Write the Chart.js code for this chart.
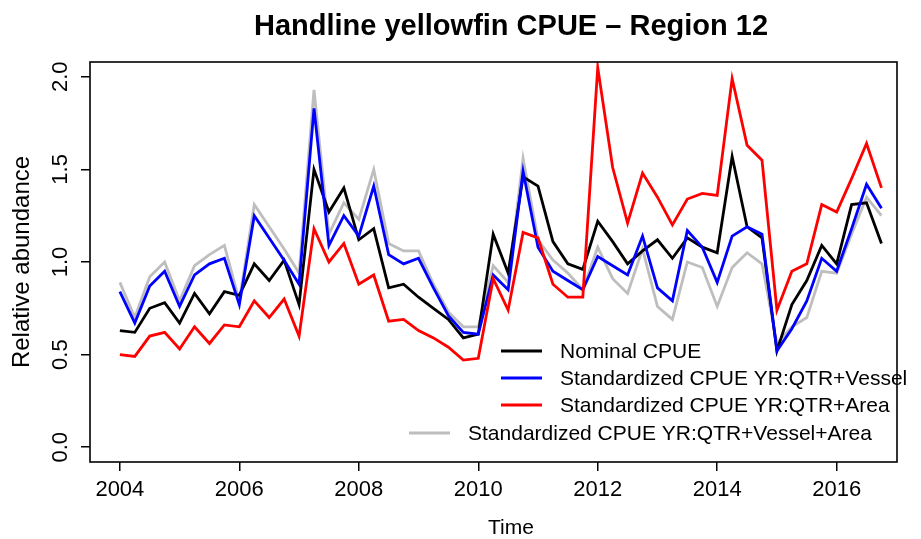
<!DOCTYPE html>
<html>
<head>
<meta charset="utf-8">
<script src="https://cdn.jsdelivr.net/npm/chart.js@4.4.1/dist/chart.umd.min.js"></script>
<style>
  html, body { margin: 0; padding: 0; background: #fff; }
  #wrap { width: 921px; height: 539px; position: relative; }
</style>
</head>
<body>
<div id="wrap"><canvas id="cpue" width="921" height="539"></canvas></div>
<script>
// Quarterly time steps (year + quarter fraction)
const times = [
  2004.00, 2004.25, 2004.50, 2004.75, 2005.00, 2005.25, 2005.50, 2005.75,
  2006.00, 2006.25, 2006.50, 2006.75, 2007.00, 2007.25, 2007.50, 2007.75,
  2008.00, 2008.25, 2008.50, 2008.75, 2009.00, 2009.25, 2009.50, 2009.75,
  2010.00, 2010.25, 2010.50, 2010.75, 2011.00, 2011.25, 2011.50, 2011.75,
  2012.00, 2012.25, 2012.50, 2012.75, 2013.00, 2013.25, 2013.50, 2013.75,
  2014.00, 2014.25, 2014.50, 2014.75, 2015.00, 2015.25, 2015.50, 2015.75,
  2016.00, 2016.25, 2016.50, 2016.75
];

// Relative abundance indices
const nominal = [
  0.63, 0.62, 0.75, 0.78, 0.67, 0.83, 0.72, 0.84,
  0.82, 0.99, 0.90, 1.01, 0.77, 1.50, 1.27, 1.40,
  1.12, 1.18, 0.86, 0.88, 0.81, 0.75, 0.69, 0.59,
  0.61, 1.15, 0.94, 1.46, 1.41, 1.11, 0.99, 0.96,
  1.22, 1.11, 0.99, 1.06, 1.12, 1.02, 1.13, 1.08,
  1.05, 1.57, 1.19, 1.13, 0.52, 0.77, 0.90, 1.09,
  0.99, 1.31, 1.32, 1.10
];
const stdVessel = [
  0.84, 0.67, 0.87, 0.95, 0.76, 0.93, 0.99, 1.02,
  0.77, 1.25, 1.13, 1.01, 0.88, 1.83, 1.09, 1.25,
  1.14, 1.41, 1.04, 0.99, 1.02, 0.86, 0.71, 0.62,
  0.61, 0.93, 0.85, 1.49, 1.08, 0.95, 0.90, 0.85,
  1.03, 0.98, 0.93, 1.14, 0.86, 0.79, 1.17, 1.08,
  0.89, 1.14, 1.19, 1.15, 0.52, 0.64, 0.79, 1.02,
  0.95, 1.18, 1.42, 1.29
];
const stdArea = [
  0.50, 0.49, 0.60, 0.62, 0.53, 0.65, 0.56, 0.66,
  0.65, 0.79, 0.70, 0.80, 0.60, 1.18, 1.00, 1.10,
  0.88, 0.93, 0.68, 0.69, 0.63, 0.59, 0.54, 0.47,
  0.48, 0.91, 0.74, 1.16, 1.13, 0.88, 0.81, 0.81,
  2.05, 1.51, 1.21, 1.48, 1.35, 1.20, 1.34, 1.37,
  1.36, 1.99, 1.63, 1.55, 0.74, 0.95, 0.99, 1.31,
  1.27, 1.45, 1.64, 1.40
];
const stdVesselArea = [
  0.89, 0.70, 0.92, 1.00, 0.79, 0.98, 1.04, 1.09,
  0.79, 1.31, 1.19, 1.07, 0.94, 1.93, 1.15, 1.32,
  1.23, 1.50, 1.10, 1.06, 1.06, 0.88, 0.73, 0.65,
  0.65, 0.98, 0.89, 1.56, 1.12, 1.01, 0.94, 0.85,
  1.08, 0.91, 0.83, 1.07, 0.76, 0.69, 1.00, 0.97,
  0.76, 0.97, 1.05, 0.99, 0.56, 0.65, 0.70, 0.95,
  0.94, 1.15, 1.35, 1.25
];

// Axis ticks
const xTicks = [2004, 2006, 2008, 2010, 2012, 2014, 2016];
const yTicks = [0.0, 0.5, 1.0, 1.5, 2.0];

const seriesLabels = [
  'Nominal CPUE',
  'Standardized CPUE YR:QTR+Vessel',
  'Standardized CPUE YR:QTR+Area',
  'Standardized CPUE YR:QTR+Vessel+Area'
];
const seriesColors = ['#000000', '#0000ff', '#ff0000', '#bebebe'];

const FONT = '"Liberation Sans", Arial, Helvetica, sans-serif';

function toPoints(values) {
  return values.map((v, i) => ({ x: times[i], y: v }));
}

// Plot frame, titles and the line legend drawn on top of the chart
const decorations = {
  id: 'decorations',
  afterDraw(chart) {
    const ctx = chart.ctx;
    const a = chart.chartArea;
    ctx.save();
    // box around the plotting region
    ctx.strokeStyle = '#000';
    ctx.lineWidth = 1.6;
    ctx.strokeRect(a.left, a.top, a.right - a.left, a.bottom - a.top);

    ctx.fillStyle = '#000';
    // main title
    ctx.font = 'bold 29px ' + FONT;
    ctx.textAlign = 'center';
    ctx.textBaseline = 'alphabetic';
    ctx.fillText('Handline yellowfin CPUE \u2013 Region 12', 511, 35);

    // x-axis title
    ctx.font = '21px ' + FONT;
    ctx.fillText('Time', 511, 534);

    // y-axis title
    ctx.save();
    ctx.translate(22, (a.top + a.bottom) / 2);
    ctx.rotate(-Math.PI / 2);
    ctx.textBaseline = 'middle';
    ctx.font = '24px ' + FONT;
    ctx.fillText('Relative abundance', 0, 0);
    ctx.restore();

    // legend entries
    const rows = [
      { lineX: 501, textX: 560, y: 351 },
      { lineX: 501, textX: 560, y: 378 },
      { lineX: 501, textX: 560, y: 405 },
      { lineX: 409, textX: 468, y: 433 }
    ];
    ctx.font = '21px ' + FONT;
    ctx.textAlign = 'left';
    ctx.textBaseline = 'middle';
    chart.data.datasets.forEach((ds, i) => {
      const r = rows[i];
      ctx.strokeStyle = ds.borderColor;
      ctx.lineWidth = 3;
      ctx.beginPath();
      ctx.moveTo(r.lineX, r.y);
      ctx.lineTo(r.lineX + 41, r.y);
      ctx.stroke();
      ctx.fillStyle = '#000';
      ctx.fillText(ds.label, r.textX, r.y + 1);
    });
    ctx.restore();
  }
};

const series = [nominal, stdVessel, stdArea, stdVesselArea];
const drawOrder = [3, 2, 1, 4];

new Chart(document.getElementById('cpue'), {
  type: 'line',
  data: {
    datasets: series.map((vals, i) => ({
      label: seriesLabels[i],
      data: toPoints(vals),
      borderColor: seriesColors[i],
      backgroundColor: seriesColors[i],
      borderWidth: 2.8,
      pointRadius: 0,
      tension: 0,
      fill: false,
      order: drawOrder[i]
    }))
  },
  options: {
    responsive: false,
    animation: false,
    layout: { padding: { top: 62, right: 24, left: 0, bottom: 0 } },
    plugins: {
      legend: { display: false },
      title: { display: false },
      tooltip: { enabled: false }
    },
    scales: {
      x: {
        type: 'linear',
        min: 2003.5,
        max: 2017.01,
        afterBuildTicks: s => { s.ticks = xTicks.map(v => ({ value: v })); },
        afterFit: s => { s.height = 77; },
        grid: { display: true, drawOnChartArea: false, drawTicks: true, tickLength: 9, color: '#000', lineWidth: 1.5 },
        border: { display: false },
        ticks: {
          color: '#000',
          font: { family: FONT, size: 22 },
          padding: 6,
          maxRotation: 0,
          autoSkip: false,
          callback: v => String(v)
        }
      },
      y: {
        type: 'linear',
        min: -0.08,
        max: 2.08,
        afterBuildTicks: s => { s.ticks = yTicks.map(v => ({ value: v })); },
        afterFit: s => { s.width = 90; },
        grid: { display: true, drawOnChartArea: false, drawTicks: true, tickLength: 9, color: '#000', lineWidth: 1.5 },
        border: { display: false },
        ticks: {
          color: '#000',
          font: { family: FONT, size: 22 },
          padding: 5,
          minRotation: 90,
          maxRotation: 90,
          crossAlign: 'center',
          callback: v => Number(v).toFixed(1)
        }
      }
    }
  },
  plugins: [decorations]
});
</script>
</body>
</html>
